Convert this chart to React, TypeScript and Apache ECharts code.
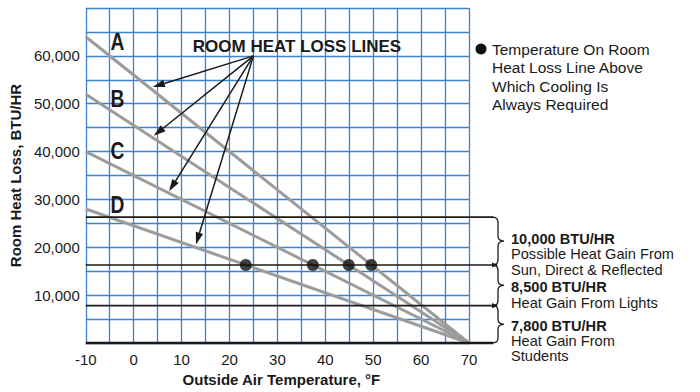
import React, { useEffect, useRef } from "react";
import * as echarts from "echarts";

// Outside air temperature range (°F)
const tempMin = -10;
const tempMax = 70;

// Room heat loss lines: heat loss (BTU/HR) at -10°F, each falling to zero at 70°F
const lineNames = ["A", "B", "C", "D"];
const heatLossAtMin = [64000, 52000, 40000, 28000];
const heatLossAtMax = [0, 0, 0, 0];

// Internal heat gains, stacked from the bottom of the chart
const gainHeadings = ["7,800 BTU/HR", "8,500 BTU/HR", "10,000 BTU/HR"];
const gainValues = [7800, 8500, 10000];
const gainNotes = [
  ["Heat Gain From", "Students"],
  ["Heat Gain From Lights"],
  ["Possible Heat Gain From", "Sun, Direct & Reflected"],
];

// Temperatures at which each loss line meets the students + lights gain level
const coolingTemps = [23.4, 37.4, 44.9, 49.6];
const coolingLoad = 16300;

// Pointer arrows from the "ROOM HEAT LOSS LINES" caption to each line
const pointerOrigin = [25, 60000];
const pointerTips = [
  [4, 53500],
  [4.2, 43300],
  [7.4, 31700],
  [13, 20600],
];

const legendLines = [
  "Temperature On Room",
  "Heat Loss Line Above",
  "Which Cooling Is",
  "Always Required",
];

const FONT = "'Liberation Sans', Arial, Helvetica, sans-serif";
const BLUE = "#3a83cf";
const GREY = "#9c9c9c";
const INK = "#1a1a1a";

function arrowHead(tip: number[], from: number[], len: number, half: number) {
  const dx = tip[0] - from[0];
  const dy = tip[1] - from[1];
  const d = Math.hypot(dx, dy) || 1;
  const ux = dx / d;
  const uy = dy / d;
  const bx = tip[0] - ux * len;
  const by = tip[1] - uy * len;
  return [
    [tip[0], tip[1]],
    [bx - uy * half, by + ux * half],
    [bx + uy * half, by - ux * half],
  ];
}

export default function App() {
  const ref = useRef<HTMLDivElement>(null);

  useEffect(() => {
    const el = ref.current;
    if (!el) return;
    const chart = echarts.init(el, null, { renderer: "svg" });

    const lossSeries = lineNames.map((name, i) => ({
      name,
      type: "line",
      data: [
        [tempMin, heatLossAtMin[i]],
        [tempMax, heatLossAtMax[i]],
      ],
      symbol: "none",
      lineStyle: { color: GREY, width: 3 },
      z: 2,
    }));

    chart.setOption({
      animation: false,
      backgroundColor: "#ffffff",
      grid: { left: 83, right: 231, top: 8, bottom: 48 },
      xAxis: {
        type: "value",
        min: tempMin,
        max: tempMax,
        interval: 5,
        axisLine: { show: false },
        axisTick: { show: false },
        splitLine: { show: true, lineStyle: { color: BLUE, width: 1.3 } },
        axisLabel: {
          margin: 9,
          fontSize: 15,
          color: INK,
          fontFamily: FONT,
          formatter: (v: number) => (v % 10 === 0 ? String(v) : ""),
        },
        name: "Outside Air Temperature, °F",
        nameLocation: "middle",
        nameGap: 29,
        nameTextStyle: { fontSize: 15, fontWeight: "bold", color: INK, fontFamily: FONT, padding: [0, 0, 0, 8] },
      },
      yAxis: {
        type: "value",
        min: 0,
        max: 70000,
        interval: 5000,
        axisLine: { show: false },
        axisTick: { show: false },
        splitLine: { show: true, lineStyle: { color: BLUE, width: 1.3 } },
        axisLabel: {
          margin: 6,
          fontSize: 15,
          color: INK,
          fontFamily: FONT,
          formatter: (v: number) =>
            v >= 10000 && v <= 60000 && v % 10000 === 0 ? v.toLocaleString("en-US") : "",
        },
        name: "Room Heat Loss, BTU/HR",
        nameLocation: "middle",
        nameRotate: 90,
        nameGap: 55,
        nameTextStyle: { fontSize: 15, fontWeight: "bold", color: INK, fontFamily: FONT },
      },
      series: [
        ...lossSeries,
        {
          name: "cooling",
          type: "scatter",
          data: coolingTemps.map((t) => [t, coolingLoad]),
          symbol: "circle",
          symbolSize: 12,
          itemStyle: { color: "#111111" },
          z: 10,
        },
      ],
    });

    const px = (x: number, y: number) =>
      chart.convertToPixel({ gridIndex: 0 }, [x, y]) as number[];

    const left = px(tempMin, 0)[0];
    const right = px(tempMax, 0)[0];
    const lineEnd = right + 24;
    const braceV = right + 29;
    const braceTip = right + 35;
    const textX = right + 42;

    // Stacked gain levels, starting from zero
    const levels = [0];
    gainValues.forEach((g) => levels.push(levels[levels.length - 1] + g));
    const levelY = levels.map((v) => px(tempMin, v)[1]);

    const elements: any[] = [];

    // Bottom axis and the gain level lines
    levelY.forEach((y, i) => {
      const withArrow = i > 0 && i < levelY.length - 1;
      elements.push({
        type: "line",
        z: 4,
        shape: { x1: left, y1: y, x2: withArrow ? lineEnd + 4 : lineEnd, y2: y },
        style: { stroke: INK, lineWidth: i === 0 ? 2.5 : 1.6 },
      });
      if (withArrow) {
        elements.push({
          type: "polygon",
          z: 4,
          shape: { points: arrowHead([lineEnd + 5, y], [left, y], 6, 2.6) },
          style: { fill: INK },
        });
      }
    });

    // Braces grouping each gain band, with its heading and notes
    const headingShift = [1.5, 2, -2];
    for (let i = 0; i < gainValues.length; i++) {
      const yBottom = levelY[i];
      const yTop = levelY[i + 1];
      const ym = (yTop + yBottom) / 2;
      const r = 5;
      const d =
        `M ${lineEnd - 1} ${yTop} Q ${braceV} ${yTop} ${braceV} ${yTop + r} ` +
        `L ${braceV} ${ym - r} Q ${braceV} ${ym} ${braceTip} ${ym} ` +
        `Q ${braceV} ${ym} ${braceV} ${ym + r} L ${braceV} ${yBottom - r} ` +
        `Q ${braceV} ${yBottom} ${lineEnd - 1} ${yBottom}`;
      const shapeName = "gainBrace" + i;
      echarts.graphic.registerShape(shapeName, echarts.graphic.extendPath(d, {}));
      elements.push({
        type: shapeName,
        z: 4,
        x: 0,
        y: 0,
        style: { stroke: INK, fill: "none", lineWidth: 1.3 },
      });
      const hy = ym + headingShift[i];
      elements.push({
        type: "text",
        z: 4,
        x: textX,
        y: hy,
        style: {
          text: gainHeadings[i],
          font: `bold 14.6px ${FONT}`,
          fill: INK,
          verticalAlign: "middle",
          align: "left",
        },
      });
      gainNotes[i].forEach((line, k) => {
        elements.push({
          type: "text",
          z: 4,
          x: textX,
          y: hy + 15.3 * (k + 1),
          style: {
            text: line,
            font: `14.6px ${FONT}`,
            fill: INK,
            verticalAlign: "middle",
            align: "left",
          },
        });
      });
    }

    // Line letters (bold, horizontally condensed)
    const letterY = [42, 99, 150.5, 205];
    lineNames.forEach((name, i) => {
      elements.push({
        type: "text",
        z: 6,
        x: 117.5,
        y: letterY[i],
        scaleX: 0.8,
        style: {
          text: name,
          font: `bold 24px ${FONT}`,
          fill: INK,
          align: "center",
          verticalAlign: "middle",
        },
      });
    });

    // Caption and pointer arrows
    elements.push({
      type: "text",
      z: 6,
      x: 297,
      y: 46,
      style: {
        text: "ROOM HEAT LOSS LINES",
        font: `bold 17px ${FONT}`,
        fill: INK,
        align: "center",
        verticalAlign: "middle",
      },
    });
    const origin = px(pointerOrigin[0], pointerOrigin[1]);
    pointerTips.forEach((tipData) => {
      const tip = px(tipData[0], tipData[1]);
      const head = arrowHead(tip, origin, 12, 3.8);
      const base = [(head[1][0] + head[2][0]) / 2, (head[1][1] + head[2][1]) / 2];
      elements.push({
        type: "line",
        z: 6,
        shape: { x1: origin[0], y1: origin[1], x2: base[0], y2: base[1] },
        style: { stroke: INK, lineWidth: 1.5 },
      });
      elements.push({
        type: "polygon",
        z: 6,
        shape: { points: head },
        style: { fill: INK },
      });
    });

    // Legend
    elements.push({
      type: "circle",
      z: 6,
      shape: { cx: 481, cy: 49, r: 5.5 },
      style: { fill: "#111111" },
    });
    legendLines.forEach((line, k) => {
      elements.push({
        type: "text",
        z: 6,
        x: 492,
        y: 49 + 18.6 * k,
        style: {
          text: line,
          font: `15.5px ${FONT}`,
          fill: INK,
          align: "left",
          verticalAlign: "middle",
        },
      });
    });

    chart.setOption({ graphic: { elements } });

    return () => {
      chart.dispose();
    };
  }, []);

  return (
    <div
      ref={ref}
      style={{ position: "fixed", left: 0, top: 0, width: 700, height: 392, background: "#fff" }}
    />
  );
}
